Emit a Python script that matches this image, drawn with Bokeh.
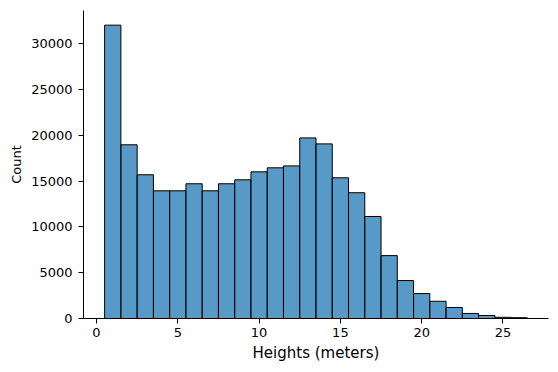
from bokeh.plotting import figure
from bokeh.embed import file_html
from bokeh.resources import INLINE
from bokeh.models import FixedTicker, Range1d

# Histogram data: bin edges (meters) and counts
bin_lefts = [0.5, 1.5, 2.5, 3.5, 4.5, 5.5, 6.5, 7.5, 8.5, 9.5, 10.5, 11.5, 12.5,
             13.5, 14.5, 15.5, 16.5, 17.5, 18.5, 19.5, 20.5, 21.5, 22.5, 23.5, 24.5, 25.5]
bin_rights = [1.5, 2.5, 3.5, 4.5, 5.5, 6.5, 7.5, 8.5, 9.5, 10.5, 11.5, 12.5, 13.5,
              14.5, 15.5, 16.5, 17.5, 18.5, 19.5, 20.5, 21.5, 22.5, 23.5, 24.5, 25.5, 26.5]
counts = [32000, 18950, 15680, 13930, 13930, 14700, 13930, 14700, 15130, 16000,
          16440, 16650, 19700, 19050, 15350, 13720, 11130, 6860, 4140, 2720,
          1880, 1200, 550, 330, 130, 90]
x_ticks = [0, 5, 10, 15, 20, 25]
y_ticks = [0, 5000, 10000, 15000, 20000, 25000, 30000]

FONT = "DejaVu Sans"

p = figure(frame_width=465, frame_height=308,
           x_range=Range1d(-0.8, 27.8), y_range=Range1d(0, 33600),
           output_backend="svg", toolbar_location=None,
           min_border_left=83, min_border_top=10, min_border_right=4, min_border_bottom=48)

p.quad(left=bin_lefts, right=bin_rights, bottom=0, top=counts,
       fill_color="#1f77b4", fill_alpha=0.75, line_color="black", line_width=1)

p.xgrid.visible = False
p.ygrid.visible = False
p.outline_line_color = None
p.background_fill_color = "white"
p.border_fill_color = "white"

for ax in (p.xaxis[0], p.yaxis[0]):
    ax.major_label_text_font = FONT
    ax.major_label_text_font_size = "13px"
    ax.major_label_text_color = "black"
    ax.axis_label_text_font = FONT
    ax.axis_label_text_font_style = "normal"
    ax.axis_label_text_color = "black"
    ax.minor_tick_line_color = None
    ax.major_tick_in = 0
    ax.major_tick_out = 5
    ax.major_tick_line_color = "black"
    ax.axis_line_color = "black"
    ax.axis_line_width = 1

p.xaxis[0].ticker = FixedTicker(ticks=x_ticks)
p.yaxis[0].ticker = FixedTicker(ticks=y_ticks)
p.xaxis[0].axis_label = "Heights (meters)"
p.xaxis[0].axis_label_text_font_size = "15px"
p.xaxis[0].major_label_standoff = 4
p.xaxis[0].axis_label_standoff = 4
p.yaxis[0].axis_label = "Count"
p.yaxis[0].axis_label_text_font_size = "13px"
p.yaxis[0].major_label_standoff = 6
p.yaxis[0].axis_label_standoff = 4

open("out.html", "w").write(file_html(p, INLINE))
